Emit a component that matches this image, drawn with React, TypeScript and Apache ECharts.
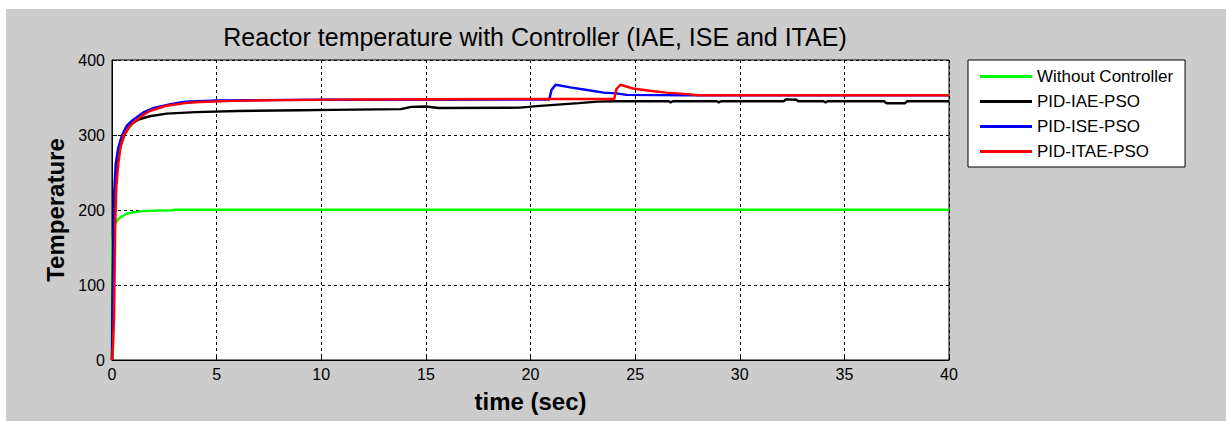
import React, { useEffect, useRef } from "react";
import * as echarts from "echarts";

const titleText = "Reactor temperature with Controller (IAE, ISE and ITAE)";
const xName = "time (sec)";
const yName = "Temperature";
const seriesNames = ["Without Controller", "PID-IAE-PSO", "PID-ISE-PSO", "PID-ITAE-PSO"];
const seriesColors = ["#00ff00", "#000000", "#0000ff", "#ff0000"];

// [time (sec), temperature]
const withoutController: [number, number][] = [
  [0, 0], [0.02, 150], [0.06, 172], [0.12, 180], [0.2, 184], [0.3, 188], [0.5, 192],
  [0.7, 195], [1.0, 197], [1.5, 198.5], [2.2, 199.3], [2.9, 199.6], [3.0, 200.3], [40, 200.3],
];

const pidIae: [number, number][] = [
  [0, 0], [0.04, 110], [0.08, 200], [0.15, 230], [0.25, 262], [0.4, 285], [0.6, 301],
  [0.8, 310], [1.0, 316], [1.3, 321], [1.8, 325], [2.6, 328.5], [4.0, 330.5], [6.0, 332],
  [9.0, 333], [10.5, 333.5], [13.8, 334.5], [14.3, 337.5], [15.0, 338], [15.6, 336],
  [19.5, 336.5], [20.3, 338.5], [21.3, 340.5], [22.3, 342.5], [23.2, 344.5], [24.0, 345],
  [26.6, 345], [26.7, 343.5], [26.8, 345], [28.9, 345], [29.0, 343.5], [29.1, 345],
  [32.1, 345], [32.2, 347.5], [32.7, 347], [32.8, 345], [34.0, 345], [34.1, 343.5],
  [34.2, 345], [36.9, 345], [37.0, 342.5], [37.9, 342.5], [38.0, 345], [40, 345],
];

const pidIse: [number, number][] = [
  [0, 0], [0.03, 30], [0.07, 140], [0.11, 225], [0.18, 262], [0.3, 283], [0.48, 300],
  [0.7, 312], [1.0, 320], [1.5, 330], [2.0, 336], [2.8, 341], [3.5, 344.5], [5.0, 346],
  [7.0, 346.5], [10.0, 347], [15.0, 347], [20.0, 347.5], [20.9, 347.5], [21.0, 360],
  [21.2, 367], [21.9, 363.5], [22.7, 360], [23.5, 356.5], [24.1, 355.5], [24.6, 353.5],
  [27.5, 353], [40, 353],
];

const pidItae: [number, number][] = [
  [0, 0], [0.05, 20], [0.1, 60], [0.15, 175], [0.2, 228], [0.3, 262], [0.4, 283],
  [0.55, 299], [0.8, 310], [1.0, 316], [1.4, 325], [1.8, 332], [2.6, 339], [3.5, 342.5],
  [4.2, 344], [5.8, 345.5], [8.0, 346.5], [12.0, 347.5], [20.0, 348], [24.0, 348],
  [24.1, 361], [24.3, 367], [24.9, 362], [25.7, 359], [26.5, 356.5], [27.5, 354.5],
  [28.0, 353], [40, 353],
];

const seriesData = [withoutController, pidIae, pidIse, pidItae];

const FONT = "'Liberation Sans', Arial, sans-serif";

export default function App() {
  const ref = useRef<HTMLDivElement>(null);

  useEffect(() => {
    if (!ref.current) return;
    const chart = echarts.init(ref.current, undefined, { renderer: "svg" });
    chart.setOption({
      animation: false,
      backgroundColor: "transparent",
      textStyle: { fontFamily: FONT },
      title: {
        text: titleText,
        left: 530,
        textAlign: "center",
        top: 19,
        textStyle: { fontFamily: FONT, fontSize: 25, fontWeight: "normal", color: "#000" },
      },
      legend: {
        orient: "vertical",
        left: 968,
        top: 60,
        padding: [8, 12, 7, 12],
        backgroundColor: "#ffffff",
        borderColor: "#000000",
        borderWidth: 1,
        borderRadius: 0,
        icon: "rect",
        itemWidth: 52,
        itemHeight: 3,
        itemGap: 8,
        data: seriesNames,
        textStyle: { fontFamily: FONT, fontSize: 17, lineHeight: 17, color: "#000" },
      },
      grid: {
        left: 112,
        top: 60,
        width: 837,
        height: 300,
        show: true,
        backgroundColor: "#ffffff",
        borderColor: "#000000",
        borderWidth: 1,
      },
      xAxis: {
        type: "value",
        min: 0,
        max: 40,
        interval: 5,
        name: xName,
        nameLocation: "middle",
        nameGap: 29,
        nameTextStyle: { fontFamily: FONT, fontSize: 24, fontWeight: "bold", color: "#000" },
        axisLine: { show: true, lineStyle: { color: "#000", width: 1 } },
        axisTick: { show: true, inside: true, length: 5, lineStyle: { color: "#000" } },
        axisLabel: { fontFamily: FONT, fontSize: 16, color: "#000", margin: 6 },
        splitLine: { show: true, lineStyle: { color: "#000", type: [3, 3], width: 1 } },
      },
      yAxis: {
        type: "value",
        min: 0,
        max: 400,
        interval: 100,
        name: yName,
        nameLocation: "middle",
        nameGap: 45,
        nameTextStyle: { fontFamily: FONT, fontSize: 24, fontWeight: "bold", color: "#000" },
        axisLine: { show: true, lineStyle: { color: "#000", width: 1 } },
        axisTick: { show: true, inside: true, length: 5, lineStyle: { color: "#000" } },
        axisLabel: { fontFamily: FONT, fontSize: 16, color: "#000", margin: 7 },
        splitLine: { show: true, lineStyle: { color: "#000", type: [3, 3], width: 1 } },
      },
      series: seriesNames.map((name, i) => ({
        name,
        type: "line",
        data: seriesData[i],
        showSymbol: false,
        symbol: "none",
        color: seriesColors[i],
        lineStyle: { color: seriesColors[i], width: 2.5 },
        z: 2 + i,
      })),
    });
    return () => chart.dispose();
  }, []);

  return (
    <div style={{ position: "absolute", left: 0, top: 0, width: 1226, height: 421, background: "#ffffff" }}>
      <div style={{ position: "absolute", left: 6, top: 9, right: 0, bottom: 0, background: "#cccccc" }} />
      <div ref={ref} style={{ position: "absolute", left: 0, top: 0, width: 1226, height: 421 }} />
    </div>
  );
}
